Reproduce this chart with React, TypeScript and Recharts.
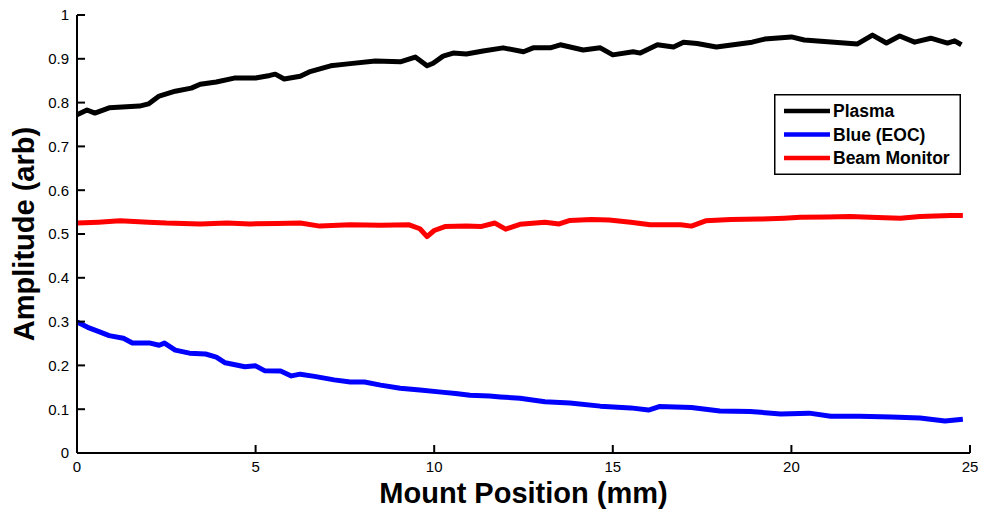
import React from 'react';
import { LineChart, Line, XAxis, YAxis, Legend, Label } from 'recharts';

// Mount position (mm) and amplitudes
const plasmaX = [0, 0.28, 0.5, 0.9, 1.75, 2.0, 2.3, 2.75, 3.2, 3.45, 3.9, 4.4, 5.0, 5.4, 5.55, 5.8, 6.25, 6.5, 7.1, 7.65, 8.35, 9.05, 9.47, 9.8, 9.97, 10.25, 10.53, 10.9, 11.37, 11.93, 12.5, 12.77, 13.25, 13.53, 14.17, 14.65, 15.0, 15.57, 15.77, 16.25, 16.7, 16.98, 17.36, 17.9, 18.9, 19.25, 20.0, 20.36, 21.2, 21.85, 22.27, 22.66, 23.03, 23.45, 23.9, 24.37, 24.57, 24.76];
const plasmaY = [0.772, 0.783, 0.776, 0.788, 0.792, 0.797, 0.815, 0.826, 0.833, 0.842, 0.847, 0.856, 0.856, 0.862, 0.865, 0.854, 0.860, 0.870, 0.884, 0.889, 0.895, 0.893, 0.904, 0.884, 0.890, 0.906, 0.913, 0.911, 0.918, 0.925, 0.916, 0.925, 0.925, 0.932, 0.920, 0.925, 0.909, 0.916, 0.913, 0.932, 0.927, 0.938, 0.935, 0.927, 0.938, 0.945, 0.950, 0.943, 0.938, 0.934, 0.954, 0.936, 0.952, 0.938, 0.947, 0.936, 0.941, 0.932];

const blueX = [0, 0.3, 0.65, 0.9, 1.3, 1.55, 2.05, 2.3, 2.45, 2.75, 3.15, 3.6, 3.9, 4.15, 4.7, 5.0, 5.25, 5.7, 6.0, 6.25, 6.65, 7.2, 7.65, 8.05, 8.5, 9.05, 9.6, 10.2, 10.6, 11.0, 11.55, 11.85, 12.4, 13.1, 13.8, 14.65, 15.5, 16.0, 16.3, 17.2, 18.0, 18.85, 19.7, 20.5, 21.1, 21.9, 22.8, 23.6, 24.3, 24.8];
const blueY = [0.299, 0.287, 0.276, 0.268, 0.262, 0.251, 0.251, 0.246, 0.251, 0.235, 0.228, 0.226, 0.219, 0.206, 0.197, 0.199, 0.188, 0.187, 0.176, 0.180, 0.175, 0.167, 0.162, 0.162, 0.155, 0.148, 0.144, 0.139, 0.136, 0.132, 0.130, 0.128, 0.125, 0.117, 0.114, 0.107, 0.103, 0.098, 0.106, 0.104, 0.096, 0.095, 0.089, 0.091, 0.084, 0.084, 0.082, 0.080, 0.073, 0.077];

const beamX = [0, 0.6, 1.2, 2.0, 2.5, 3.45, 4.2, 4.85, 5.6, 6.25, 6.8, 7.65, 8.5, 9.3, 9.6, 9.8, 10.0, 10.3, 10.9, 11.3, 11.7, 12.0, 12.4, 13.1, 13.5, 13.8, 14.4, 14.9, 15.5, 16.05, 16.9, 17.2, 17.6, 18.3, 19.1, 19.8, 20.25, 21.0, 21.65, 22.2, 23.05, 23.6, 24.45, 24.8];
const beamY = [0.525, 0.527, 0.530, 0.527, 0.525, 0.523, 0.525, 0.523, 0.524, 0.525, 0.518, 0.521, 0.520, 0.521, 0.512, 0.494, 0.508, 0.517, 0.518, 0.517, 0.525, 0.511, 0.522, 0.527, 0.523, 0.531, 0.533, 0.532, 0.527, 0.521, 0.521, 0.518, 0.530, 0.533, 0.534, 0.536, 0.538, 0.539, 0.540, 0.538, 0.536, 0.540, 0.542, 0.542];

const xTicks = [0, 5, 10, 15, 20, 25];
const yTicks = [0, 0.1, 0.2, 0.3, 0.4, 0.5, 0.6, 0.7, 0.8, 0.9, 1];
const seriesNames = ['Plasma', 'Blue (EOC)', 'Beam Monitor'];
const seriesColors = ['#000000', '#0000ff', '#ff0000'];
const xTitle = 'Mount Position (mm)';
const yTitle = 'Amplitude (arb)';

const toRows = (xs: number[], ys: number[]) => xs.map((x, i) => ({ x, y: ys[i] }));
const seriesData = [toRows(plasmaX, plasmaY), toRows(blueX, blueY), toRows(beamX, beamY)];

const FONT = '"Liberation Sans", Arial, Helvetica, sans-serif';

const YTick = (props: any) => {
  const { x, y, payload } = props;
  return (
    <g>
      <line x1={x + 8} x2={x + 16} y1={y} y2={y} stroke="#000" strokeWidth={2} />
      <text x={x} y={y} dy="0.36em" textAnchor="end" fontFamily={FONT} fontSize={15} fill="#000">
        {String(Math.round(payload.value * 10) / 10)}
      </text>
    </g>
  );
};

const XTick = (props: any) => {
  const { x, y, payload } = props;
  return (
    <g>
      <line x1={x} x2={x} y1={y - 8} y2={y - 16} stroke="#000" strokeWidth={2} />
      <text x={x} y={y} dy="0.71em" textAnchor="middle" fontFamily={FONT} fontSize={15} fill="#000">
        {String(payload.value)}
      </text>
    </g>
  );
};

const LegendBox = () => (
  <svg width={187} height={81} style={{ display: 'block' }}>
    <rect x={0.75} y={0.75} width={185.5} height={79.5} fill="#fff" stroke="#000" strokeWidth={1.5} />
    {seriesNames.map((name, i) => {
      const cy = 17 + i * 23.5;
      return (
        <g key={name}>
          <line x1={10} x2={56} y1={cy} y2={cy} stroke={seriesColors[i]} strokeWidth={4.5} />
          <text x={59} y={cy} dy="0.36em" fontFamily={FONT} fontWeight="bold" fontSize={17.5} fill="#000">
            {name}
          </text>
        </g>
      );
    })}
  </svg>
);

export default function App() {
  return (
    <div style={{ position: 'absolute', left: 0, top: 0, width: 984, height: 512, background: '#fff' }}>
      <LineChart width={984} height={512} margin={{ top: 15, right: 14, left: 0, bottom: 0 }}>
        <XAxis
          type="number"
          dataKey="x"
          domain={[0, 25]}
          ticks={xTicks}
          allowDataOverflow
          height={59}
          tickSize={0}
          tickMargin={8}
          tick={<XTick />}
          axisLine={{ stroke: '#000', strokeWidth: 2 }}
        >
          <Label
            content={(p: any) => {
              const vb = p.viewBox;
              return (
                <text x={vb.x + vb.width / 2} y={503} textAnchor="middle" fontFamily={FONT} fontWeight="bold" fontSize={29} fill="#000">
                  {xTitle}
                </text>
              );
            }}
          />
        </XAxis>
        <YAxis
          type="number"
          domain={[0, 1]}
          ticks={yTicks}
          allowDataOverflow
          width={77}
          tickSize={0}
          tickMargin={8}
          tick={<YTick />}
          axisLine={{ stroke: '#000', strokeWidth: 2 }}
        >
          <Label
            content={(p: any) => {
              const vb = p.viewBox;
              const cy = vb.y + vb.height / 2;
              return (
                <text x={34} y={cy} transform={`rotate(-90, 34, ${cy})`} textAnchor="middle" fontFamily={FONT} fontWeight="bold" fontSize={29} fill="#000">
                  {yTitle}
                </text>
              );
            }}
          />
        </YAxis>
        {seriesData.map((d, i) => (
          <Line
            key={seriesNames[i]}
            data={d}
            dataKey="y"
            name={seriesNames[i]}
            type="linear"
            stroke={seriesColors[i]}
            strokeWidth={5}
            dot={false}
            activeDot={false}
            isAnimationActive={false}
            strokeLinejoin="round"
          />
        ))}
        <Legend
          layout="horizontal"
          align="center"
          verticalAlign="middle"
          content={<LegendBox />}
          wrapperStyle={{ left: 774, top: 94, width: 187, height: 81, bottom: 'auto', right: 'auto' }}
        />
      </LineChart>
    </div>
  );
}
